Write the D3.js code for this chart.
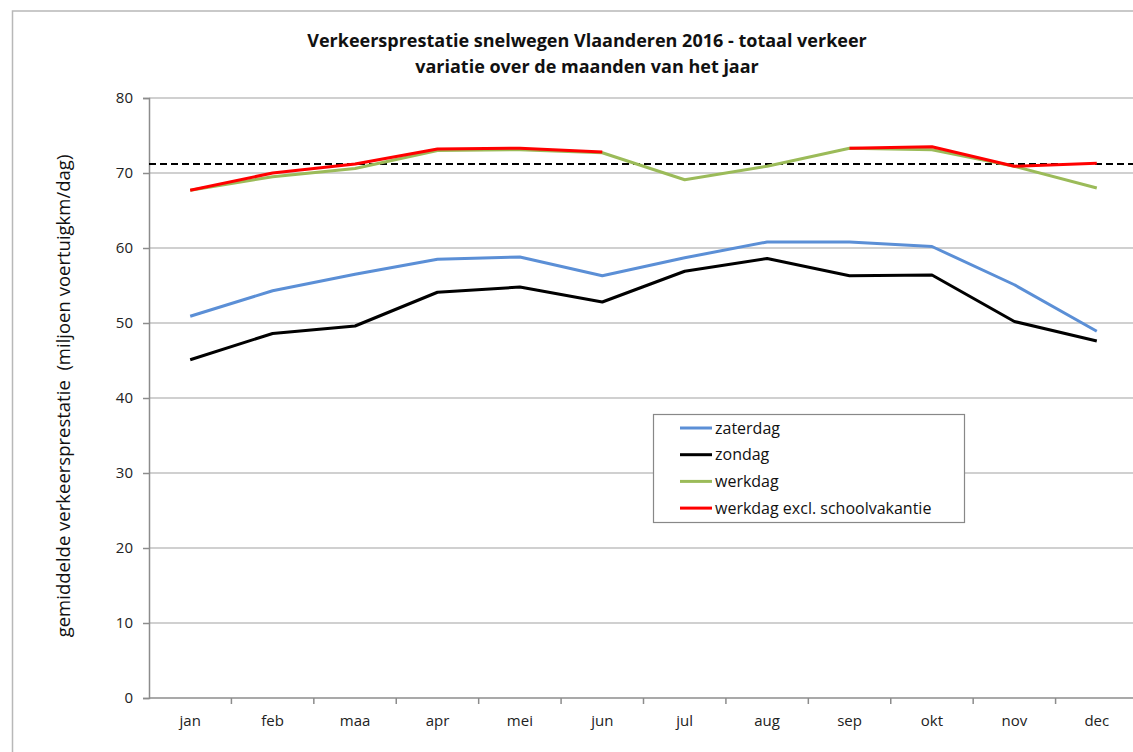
<!DOCTYPE html>
<head>
<meta charset="utf-8">
<script src="https://d3js.org/d3.v7.min.js"></script>
<style>
    body { margin: 0; background: #fff; font-family: "Open Sans", sans-serif; }
    .grid line { stroke: #c0c0c0; stroke-width: 1.5; }
    .axis path, .axis line { stroke: #8c8c8c; stroke-width: 1.5; }
    .axis text { font-size: 15px; fill: #222; font-family: "Open Sans", sans-serif; }
    .series { fill: none; stroke-width: 3; stroke-linejoin: round; }
</style>
</head>
<body>
<script>
    var months = ["jan", "feb", "maa", "apr", "mei", "jun", "jul", "aug", "sep", "okt", "nov", "dec"];
    var zaterdag = [50.9, 54.3, 56.5, 58.5, 58.8, 56.3, 58.7, 60.8, 60.8, 60.2, 55.1, 48.9];
    var zondag = [45.1, 48.6, 49.6, 54.1, 54.8, 52.8, 56.9, 58.6, 56.3, 56.4, 50.2, 47.6];
    var werkdag = [67.7, 69.5, 70.6, 73.0, 73.1, 72.7, 69.1, 70.9, 73.3, 73.1, 70.9, 68.0];
    var werkdagExcl = [67.7, 70.0, 71.2, 73.2, 73.3, 72.8, null, null, 73.3, 73.5, 70.9, 71.3];
    var gemiddelde = 71.2;
    var yTicks = [0, 10, 20, 30, 40, 50, 60, 70, 80];

    var series = [
        { name: "zaterdag", values: zaterdag, color: "#5b8fd6" },
        { name: "zondag", values: zondag, color: "#000000" },
        { name: "werkdag", values: werkdag, color: "#9bbb59" },
        { name: "werkdag excl. schoolvakantie", values: werkdagExcl, color: "#ff0000" }
    ];

    var width = 1133, height = 752;
    var plotL = 149, plotR = 1138, plotT = 98, plotB = 698;

    var svg = d3.select("body").append("svg")
        .attr("width", width)
        .attr("height", height);

    // chart area border
    svg.append("rect")
        .attr("x", 12.5).attr("y", 11)
        .attr("width", 1300).attr("height", 900)
        .attr("fill", "none")
        .attr("stroke", "#b8b8b8")
        .attr("stroke-width", 1.5);

    var x = d3.scaleBand().domain(months).range([plotL, plotR]);
    var y = d3.scaleLinear().domain([0, 80]).range([plotB, plotT]);

    // gridlines
    svg.append("g").attr("class", "grid")
        .selectAll("line")
        .data(yTicks.filter(function(d) { return d > 0; }))
        .enter().append("line")
        .attr("x1", plotL).attr("x2", plotR)
        .attr("y1", function(d) { return y(d); })
        .attr("y2", function(d) { return y(d); });

    // y axis
    svg.append("g").attr("class", "axis")
        .attr("transform", "translate(" + plotL + ",0)")
        .call(d3.axisLeft(y).tickValues(yTicks).tickSize(6).tickPadding(10));

    // x axis: labels at centres, ticks on band edges
    var xAxis = svg.append("g").attr("class", "axis")
        .attr("transform", "translate(0," + plotB + ")")
        .call(d3.axisBottom(x).tickSize(0).tickPadding(17));
    xAxis.select(".domain").attr("d", "M" + plotL + ",0H" + plotR);
    xAxis.selectAll("line.edge")
        .data(months.slice(1))
        .enter().append("line")
        .attr("class", "edge")
        .attr("x1", function(d) { return x(d); })
        .attr("x2", function(d) { return x(d); })
        .attr("y1", 0).attr("y2", 6);

    var line = d3.line()
        .defined(function(d) { return d != null; })
        .x(function(d, i) { return x(months[i]) + x.bandwidth() / 2; })
        .y(function(d) { return y(d); });

    // reference dashed line
    svg.append("line")
        .attr("x1", plotL).attr("x2", plotR)
        .attr("y1", y(gemiddelde)).attr("y2", y(gemiddelde))
        .attr("stroke", "#000")
        .attr("stroke-width", 2)
        .attr("stroke-dasharray", "7,4");

    svg.selectAll("path.series")
        .data(series)
        .enter().append("path")
        .attr("class", "series")
        .attr("stroke", function(d) { return d.color; })
        .attr("d", function(d) { return line(d.values); });

    // titles
    var title = svg.append("text")
        .attr("text-anchor", "middle")
        .style("font-weight", "bold").style("font-size", "18px").attr("fill", "#111");
    title.append("tspan").attr("x", 587).attr("y", 47)
        .text("Verkeersprestatie snelwegen Vlaanderen 2016 - totaal verkeer");
    title.append("tspan").attr("x", 587).attr("y", 73)
        .text("variatie over de maanden van het jaar");

    svg.append("text")
        .attr("transform", "translate(70,396) rotate(-90)")
        .attr("text-anchor", "middle")
        .style("font-size", "18.5px").style("white-space", "pre").attr("fill", "#111")
        .text("gemiddelde verkeersprestatie  (miljoen voertuigkm/dag)");

    // legend
    var legend = svg.append("g").attr("transform", "translate(653,414)");
    legend.append("rect")
        .attr("x", 0.5).attr("y", 0.5)
        .attr("width", 311).attr("height", 108)
        .attr("fill", "#fff").attr("stroke", "#888").attr("stroke-width", 1.2);
    var items = legend.selectAll("g.item")
        .data(series)
        .enter().append("g")
        .attr("class", "item")
        .attr("transform", function(d, i) { return "translate(0," + (14 + i * 26.7) + ")"; });
    items.append("line")
        .attr("x1", 27).attr("x2", 59)
        .attr("stroke", function(d) { return d.color; })
        .attr("stroke-width", 3);
    items.append("text")
        .attr("x", 62).attr("dy", "0.35em")
        .style("font-size", "16px").attr("fill", "#111")
        .text(function(d) { return d.name; });
</script>
</body>
